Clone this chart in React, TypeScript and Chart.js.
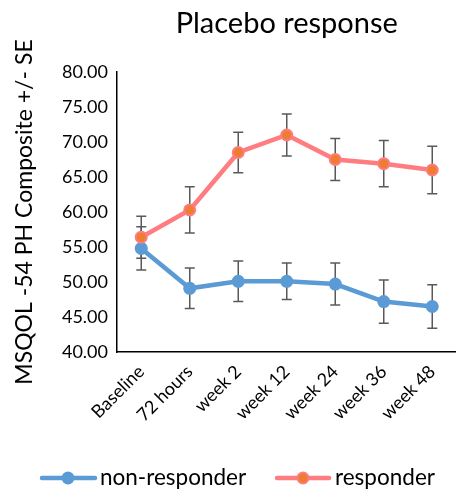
import React, { useEffect, useRef } from "react";
import { Chart, registerables } from "chart.js";

Chart.register(...registerables);

const categories = ["Baseline", "72 hours", "week 2", "week 12", "week 24", "week 36", "week 48"];
const nonResponder = [54.8, 49.1, 50.1, 50.1, 49.7, 47.2, 46.5];
const nonResponderSE = [3.1, 2.9, 2.9, 2.6, 3.0, 3.1, 3.1];
const responder = [56.4, 60.3, 68.5, 71.0, 67.5, 66.9, 66.0];
const responderSE = [3.0, 3.3, 2.9, 3.0, 3.0, 3.3, 3.4];
const seriesNames = ["non-responder", "responder"];
const titleText = "Placebo response";
const yTitle = "MSQOL -54 PH Composite +/- SE";

const FONT = "Lato, 'Open Sans', sans-serif";
const BLUE = "#5B9BD5";
const PINK = "#FF7C80";
const ORANGE = "#ED7D31";

const errorBars = {
  id: "errorBars",
  beforeDatasetsDraw(chart: any) {
    const ctx = chart.ctx;
    const x = chart.scales.x;
    const y = chart.scales.y;
    const sets = [
      { v: nonResponder, e: nonResponderSE },
      { v: responder, e: responderSE },
    ];
    ctx.save();
    ctx.strokeStyle = "#595959";
    ctx.lineWidth = 1.5;
    sets.forEach((s) => {
      s.v.forEach((val, i) => {
        const px = x.getPixelForValue(i);
        const top = y.getPixelForValue(val + s.e[i]);
        const bot = y.getPixelForValue(val - s.e[i]);
        ctx.beginPath();
        ctx.moveTo(px, top);
        ctx.lineTo(px, bot);
        ctx.moveTo(px - 5, top);
        ctx.lineTo(px + 5, top);
        ctx.moveTo(px - 5, bot);
        ctx.lineTo(px + 5, bot);
        ctx.stroke();
      });
    });
    ctx.restore();
  },
};

const decorations = {
  id: "decorations",
  afterDraw(chart: any) {
    const ctx = chart.ctx;
    const area = chart.chartArea;
    ctx.save();
    ctx.fillStyle = "#000";
    ctx.textAlign = "center";
    ctx.textBaseline = "middle";
    ctx.font = `29px ${FONT}`;
    ctx.fillText(titleText, (area.left + area.right) / 2, 24);

    // legend
    const ly = 478;
    ctx.lineCap = "round";
    ctx.lineWidth = 4.5;
    ctx.strokeStyle = BLUE;
    ctx.beginPath();
    ctx.moveTo(42, ly);
    ctx.lineTo(95, ly);
    ctx.stroke();
    ctx.fillStyle = BLUE;
    ctx.beginPath();
    ctx.arc(68, ly, 6.5, 0, Math.PI * 2);
    ctx.fill();

    ctx.strokeStyle = PINK;
    ctx.beginPath();
    ctx.moveTo(277, ly);
    ctx.lineTo(329, ly);
    ctx.stroke();
    ctx.fillStyle = ORANGE;
    ctx.lineWidth = 2;
    ctx.beginPath();
    ctx.arc(303, ly, 5.5, 0, Math.PI * 2);
    ctx.fill();
    ctx.stroke();

    ctx.fillStyle = "#000";
    ctx.textAlign = "left";
    ctx.font = `22.5px ${FONT}`;
    ctx.fillText(seriesNames[0], 100, ly);
    ctx.fillText(seriesNames[1], 335, ly);
    ctx.restore();
  },
};

export default function App() {
  const ref = useRef<HTMLCanvasElement>(null);
  useEffect(() => {
    if (!ref.current) return;
    const chart = new Chart(ref.current, {
      type: "line",
      data: {
        labels: categories,
        datasets: [
          {
            label: seriesNames[0],
            data: nonResponder,
            borderColor: BLUE,
            backgroundColor: BLUE,
            borderWidth: 4.5,
            pointRadius: 6.5,
            pointBorderWidth: 0,
            pointBackgroundColor: BLUE,
            tension: 0,
            order: 1,
          },
          {
            label: seriesNames[1],
            data: responder,
            borderColor: PINK,
            backgroundColor: ORANGE,
            borderWidth: 4.5,
            pointRadius: 5.5,
            pointBorderWidth: 2,
            pointBorderColor: PINK,
            pointBackgroundColor: ORANGE,
            tension: 0,
            order: 0,
          },
        ],
      },
      options: {
        responsive: false,
        animation: false,
        layout: { padding: { top: 72, right: 1, bottom: 0, left: 0 } },
        plugins: {
          legend: { display: false },
          title: { display: false },
          tooltip: { enabled: false },
        },
        scales: {
          x: {
            offset: true,
            grid: { display: false, drawTicks: false },
            border: { display: true, color: "#000", width: 1.5 },
            ticks: {
              color: "#000",
              font: { family: FONT, size: 18 },
              maxRotation: 45,
              minRotation: 45,
              padding: 9,
            },
            afterFit(scale: any) {
              scale.height = 139;
            },
          },
          y: {
            min: 40,
            max: 80,
            grid: { display: false, drawTicks: false },
            border: { display: true, color: "#000", width: 1.5 },
            ticks: {
              stepSize: 5,
              color: "#000",
              font: { family: FONT, size: 18 },
              padding: 9,
              callback: (v: any) => Number(v).toFixed(2),
            },
            title: {
              display: true,
              text: yTitle,
              color: "#000",
              font: { family: FONT, size: 23 },
              padding: { top: 11, bottom: 0 },
            },
            afterFit(scale: any) {
              scale.width = 117;
            },
          },
        },
      },
      plugins: [errorBars, decorations],
    });
    return () => chart.destroy();
  }, []);
  return (
    <div style={{ position: "fixed", left: 0, top: 0, width: 456, height: 491, overflow: "hidden", background: "#fff" }}>
      <canvas ref={ref} width={464} height={491} style={{ display: "block" }} />
    </div>
  );
}
